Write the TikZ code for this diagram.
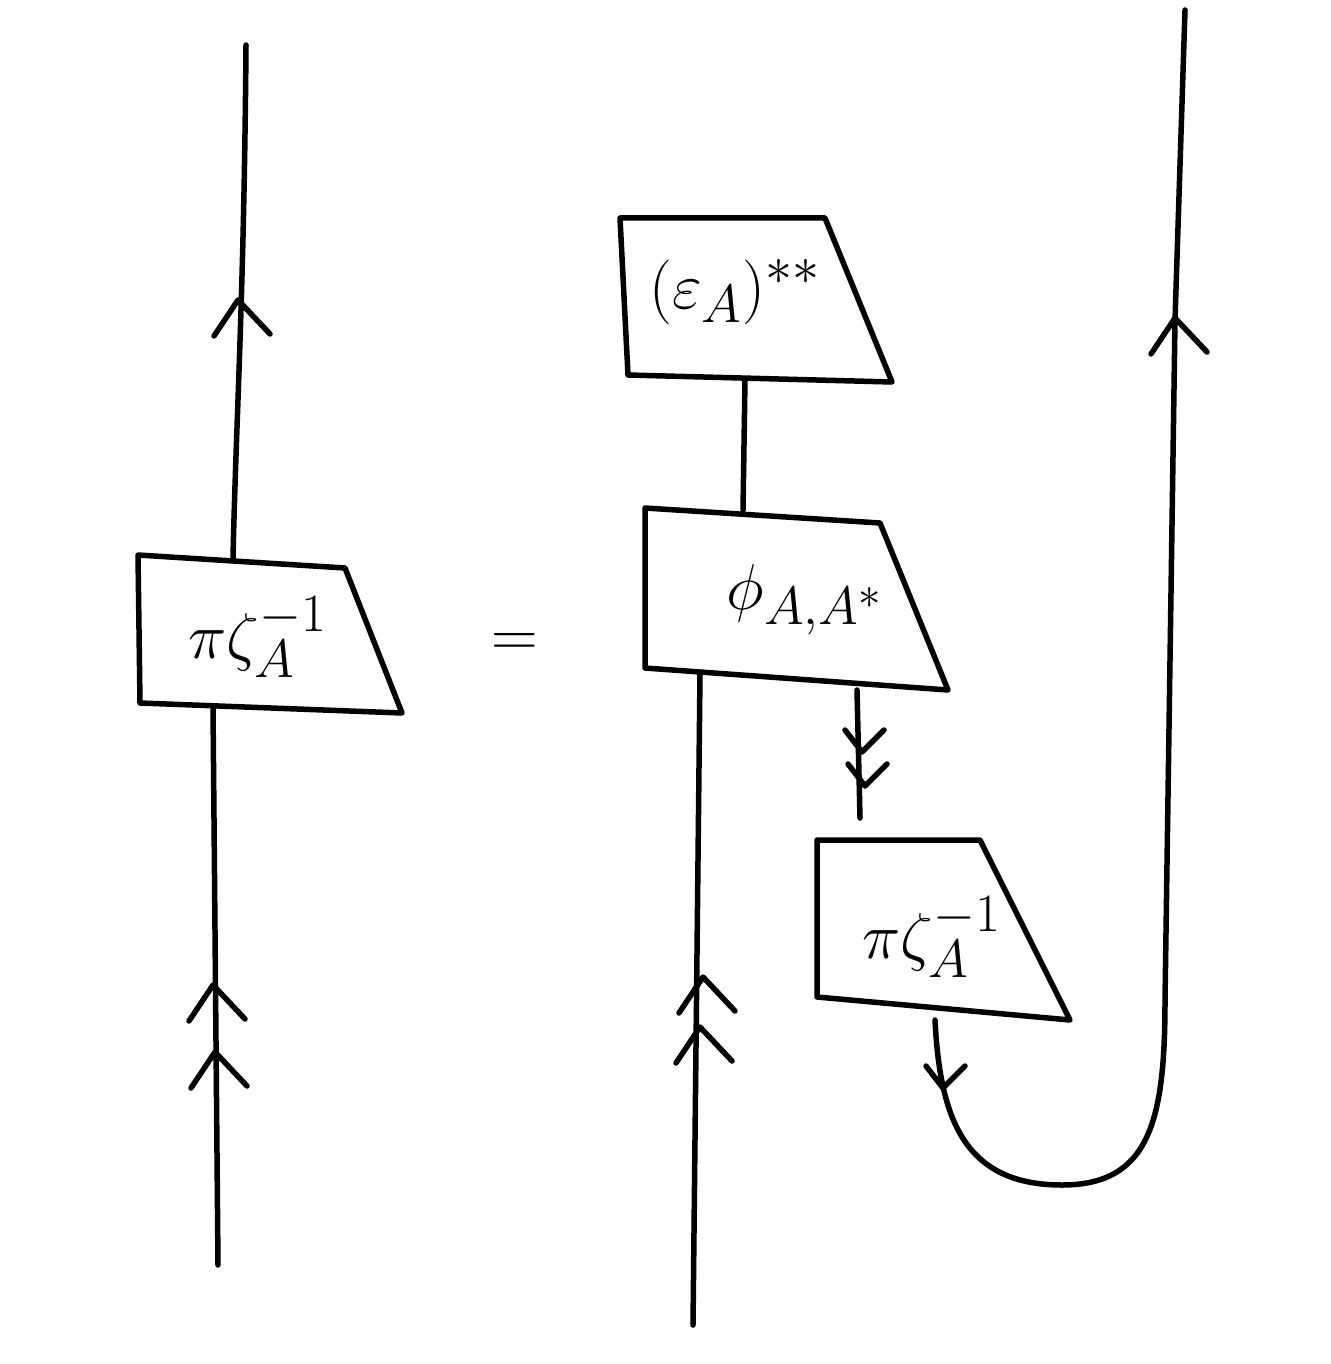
\documentclass[tikz,border=0pt]{standalone}
\begin{document}
\begin{tikzpicture}[x=1pt,y=-1pt,line width=5.5pt,line cap=round,line join=round,
  lab/.style={scale=2.6,inner sep=0pt},
  chevup/.pic={\draw (-24,36) -- (0,0) -- (32,34);},
  chevdown/.pic={\draw (-17,-22) -- (0,0) -- (22,-22);}]
\useasboundingbox[fill=white] (0,0) rectangle (1330,1364);

% ---------- left side ----------
\coordinate (b1tl) at (138,555);
\coordinate (b1tr) at (345,568);
\coordinate (b1br) at (402,713);
\coordinate (b1bl) at (140,703);
\draw (b1tl) -- (b1tr) -- (b1br) -- (b1bl) -- cycle;
\node[lab] (lab1) at (258,637) {\Huge$\pi\zeta_A^{-1}$};
\coordinate (b1t) at (233,558);
\coordinate (b1b) at (213,707);
\coordinate (L1top) at (246,45);
\coordinate (L1bot) at (218,1265);
\draw (L1top) .. controls (244,300) and (236,420) .. (b1t);
\draw (b1b) -- (L1bot);
\pic at (238,300) {chevup};
\pic at (213,985) {chevup};
\pic at (215,1052) {chevup};

% equals
\node[lab] (eq) at (515,645) {\Huge$=$};

% ---------- right side ----------
% epsilon box
\coordinate (b2tl) at (620,218);
\coordinate (b2tr) at (825,218);
\coordinate (b2br) at (892,382);
\coordinate (b2bl) at (628,375);
\draw (b2tl) -- (b2tr) -- (b2br) -- (b2bl) -- cycle;
\node[lab] (lab2) at (735,292) {\Huge$(\varepsilon_A)^{**}$};

% phi box
\coordinate (b3tl) at (645,508);
\coordinate (b3tr) at (880,523);
\coordinate (b3br) at (948,690);
\coordinate (b3bl) at (645,668);
\draw (b3tl) -- (b3tr) -- (b3br) -- (b3bl) -- cycle;
\node[lab] (lab3) at (805,600) {\Huge$\phi_{A,A^*}$};

% pi zeta box
\coordinate (b4tl) at (817,840);
\coordinate (b4tr) at (980,840);
\coordinate (b4br) at (1070,1020);
\coordinate (b4bl) at (817,997);
\draw (b4tl) -- (b4tr) -- (b4br) -- (b4bl) -- cycle;
\node[lab] (lab4) at (932,937) {\Huge$\pi\zeta_A^{-1}$};

% connectors
\coordinate (b2b) at (745,380);
\coordinate (b3t) at (743,510);
\draw (b2b) -- (b3t);

\coordinate (b3bA) at (700,674);
\coordinate (R1bot) at (693,1325);
\draw (b3bA) -- (R1bot);
\pic at (703,977) {chevup};
\pic at (700,1027) {chevup};

\coordinate (b3bB) at (857,690);
\coordinate (b4t) at (860,818);
\draw (b3bB) -- (b4t);
\pic at (862,752) {chevdown};
\pic at (865,786) {chevdown};

\coordinate (b4b) at (935,1020);
\coordinate (Rtop) at (1185,10);
\draw (b4b) .. controls (940,1120) and (965,1185) .. (1062,1185)
      .. controls (1150,1185) and (1165,1120) .. (1165,1000)
      -- (1175,320) -- (Rtop);
\pic at (943,1088) {chevdown};
\pic at (1175,318) {chevup};
\end{tikzpicture}
\end{document}
